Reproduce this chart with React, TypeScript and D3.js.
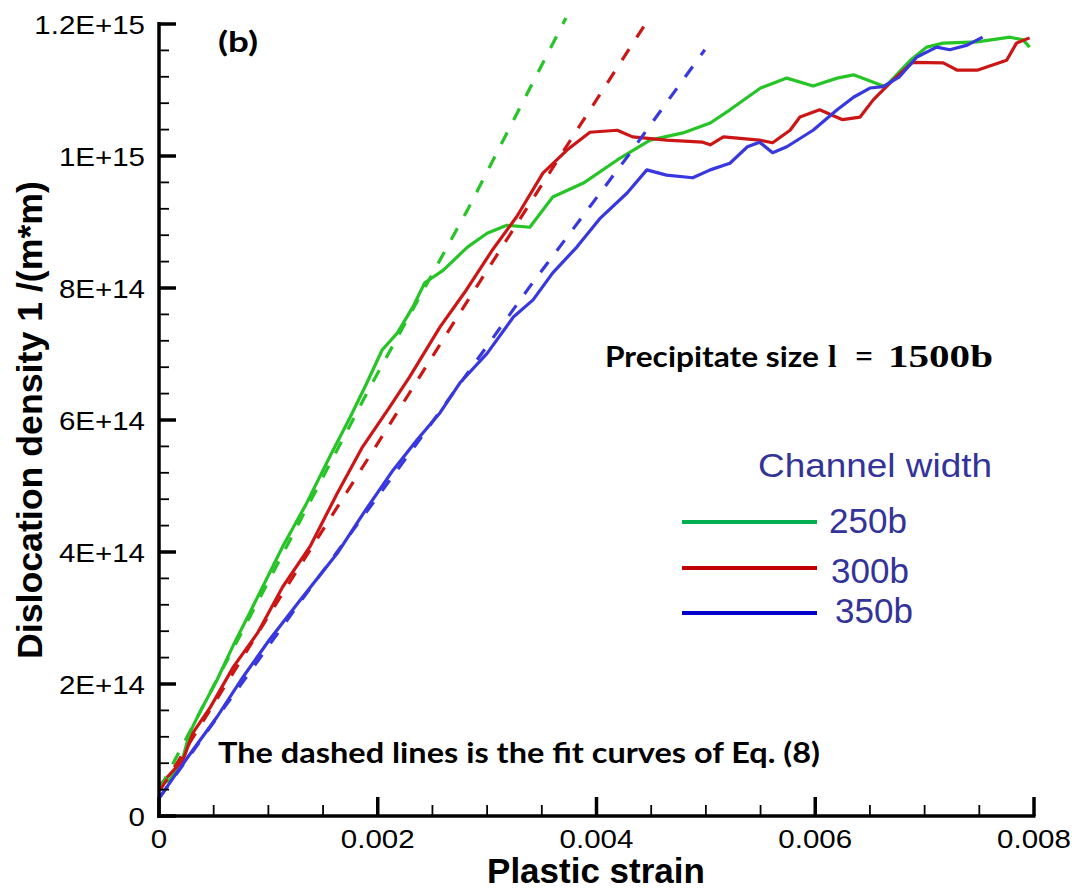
import React from "react";
import * as d3 from "d3";

// Plastic strain (x) and dislocation density in units of 1E+14 1/(m*m) (y)
const solid250b: [number, number][] = [
  [0.00001, 0.47], [0.0001, 0.55], [0.00022, 0.89], [0.00028, 1.26], [0.00037, 1.56],
  [0.00053, 2.06], [0.00068, 2.59], [0.00083, 3.08], [0.00092, 3.38], [0.00113, 4.08],
  [0.00135, 4.74], [0.00156, 5.44], [0.00175, 6.05], [0.0019, 6.56], [0.00204, 7.06],
  [0.00218, 7.32], [0.00232, 7.71], [0.00243, 8.08], [0.0026, 8.27], [0.00282, 8.62],
  [0.003, 8.83], [0.00318, 8.95], [0.00339, 8.92], [0.0036, 9.38], [0.00388, 9.59],
  [0.00419, 9.94], [0.00449, 10.24], [0.00479, 10.35], [0.00504, 10.5], [0.00522, 10.7],
  [0.0055, 11.03], [0.00574, 11.18], [0.00598, 11.06], [0.0062, 11.18], [0.00635, 11.23],
  [0.00664, 11.05], [0.00687, 11.45], [0.00702, 11.65], [0.00717, 11.71], [0.00748, 11.73],
  [0.00778, 11.8], [0.0079, 11.76], [0.00796, 11.65],
];
const solid300b: [number, number][] = [
  [0.00001, 0.47], [0.00022, 0.85], [0.00031, 1.26], [0.00047, 1.65], [0.00068, 2.26],
  [0.0009, 2.77], [0.00113, 3.47], [0.00138, 4.08], [0.00163, 4.89], [0.00186, 5.59],
  [0.00211, 6.2], [0.00229, 6.65], [0.00257, 7.41], [0.00281, 7.97], [0.00305, 8.58],
  [0.00327, 9.08], [0.00351, 9.74], [0.00373, 10.09], [0.00394, 10.36], [0.00419, 10.39],
  [0.00433, 10.29], [0.00464, 10.24], [0.00497, 10.21], [0.00504, 10.17], [0.00516, 10.29],
  [0.00549, 10.24], [0.00561, 10.2], [0.00577, 10.39], [0.00586, 10.59], [0.00604, 10.7],
  [0.00625, 10.55], [0.00641, 10.59], [0.00653, 10.85], [0.00671, 11.15], [0.00689, 11.42],
  [0.00717, 11.41], [0.0073, 11.3], [0.00748, 11.3], [0.00775, 11.45], [0.00784, 11.71],
  [0.00796, 11.79],
];
const solid350b: [number, number][] = [
  [0.00001, 0.29], [0.00016, 0.65], [0.00031, 1.0], [0.00053, 1.5], [0.00077, 2.11],
  [0.00101, 2.67], [0.00129, 3.27], [0.00163, 3.98], [0.00187, 4.59], [0.00214, 5.24],
  [0.00236, 5.7], [0.00257, 6.11], [0.00275, 6.56], [0.003, 7.01], [0.00324, 7.56],
  [0.00342, 7.82], [0.0036, 8.23], [0.00382, 8.62], [0.00403, 9.05], [0.00428, 9.44],
  [0.00446, 9.79], [0.00464, 9.71], [0.00488, 9.67], [0.00504, 9.79], [0.00522, 9.89],
  [0.00538, 10.14], [0.00549, 10.21], [0.00561, 10.05], [0.00574, 10.14], [0.00598, 10.39],
  [0.0062, 10.7], [0.00635, 10.89], [0.0065, 11.03], [0.00662, 11.05], [0.00677, 11.2],
  [0.00693, 11.5], [0.00711, 11.65], [0.00723, 11.61], [0.00739, 11.68], [0.00753, 11.8],
];
// Fit curves of Eq. (8)
const fit250b: [number, number][] = [
  [0.00001, 0.42], [0.00092, 3.3], [0.00193, 6.5], [0.00282, 9.18], [0.00372, 12.09],
];
const fit300b: [number, number][] = [
  [0.00001, 0.39], [0.00111, 3.32], [0.00202, 5.7], [0.00275, 7.62], [0.00382, 10.39], [0.00447, 12.06],
];
const fit350b: [number, number][] = [
  [0.00001, 0.29], [0.00129, 3.24], [0.00236, 5.65], [0.00339, 8.02], [0.00431, 10.05], [0.00499, 11.61],
];

const seriesNames = ["250b", "300b", "350b"];
const curveColors = ["#26c426", "#cc1616", "#3838e0"];
const legendColors = ["#00b050", "#c00000", "#0000c8"];

const xTickValues = [0, 0.002, 0.004, 0.006, 0.008];
const xTickLabels = ["0", "0.002", "0.004", "0.006", "0.008"];
const yTickValues = [0, 2e14, 4e14, 6e14, 8e14, 1e15, 1.2e15];
const yTickLabels = ["0", "2E+14", "4E+14", "6E+14", "8E+14", "1E+15", "1.2E+15"];

const UNIT = 1e14;

export default function App() {
  const W = 1078, H = 890;
  const x = d3.scaleLinear().domain([0, 0.008]).range([159, 1034]);
  const y = d3.scaleLinear().domain([0, 1.2e15]).range([816, 24]);
  const line = d3
    .line<[number, number]>()
    .x((d) => x(d[0]))
    .y((d) => y(d[1] * UNIT));

  const solids = [solid250b, solid300b, solid350b];
  const fits = [fit250b, fit300b, fit350b];

  const xMinor = d3.range(0, 0.00801, 0.0005).filter((v) => Math.abs(v / 0.002 - Math.round(v / 0.002)) > 1e-6);
  const yMinor = d3.range(0, 1.2e15 + 1, 4e13).filter((v) => Math.abs(v / 2e14 - Math.round(v / 2e14)) > 1e-6);

  const axisFont = "'Liberation Sans', Arial, sans-serif";

  return (
    <svg width={W} height={H} style={{ position: "absolute", left: 0, top: 0, background: "#fff" }}>
      <rect x={0} y={0} width={W} height={H} fill="#fff" />
      {/* curves */}
      {solids.map((s, i) => (
        <path key={"s" + i} d={line(s) || ""} fill="none" stroke={curveColors[i]} strokeWidth={3.2} strokeLinejoin="round" />
      ))}
      {fits.map((s, i) => (
        <path key={"f" + i} d={line(s) || ""} fill="none" stroke={curveColors[i]} strokeWidth={3.2} strokeDasharray="13,14" />
      ))}

      {/* axes */}
      <line x1={159} x2={159} y1={y(1.2e15) - 2} y2={y(0) + 2} stroke="#000" strokeWidth={3.5} />
      <line x1={157} x2={x(0.008) + 1.5} y1={y(0)} y2={y(0)} stroke="#000" strokeWidth={3.5} />
      {yTickValues.map((v, i) => (
        <line key={"ym" + i} x1={159} x2={176} y1={y(v)} y2={y(v)} stroke="#000" strokeWidth={3.5} />
      ))}
      {yMinor.map((v, i) => (
        <line key={"yn" + i} x1={159} x2={169} y1={y(v)} y2={y(v)} stroke="#000" strokeWidth={1.8} />
      ))}
      {xTickValues.map((v, i) => (
        <line key={"xm" + i} x1={x(v)} x2={x(v)} y1={y(0)} y2={y(0) - 19} stroke="#000" strokeWidth={3.5} />
      ))}
      {xMinor.map((v, i) => (
        <line key={"xn" + i} x1={x(v)} x2={x(v)} y1={y(0)} y2={y(0) - 11} stroke="#000" strokeWidth={1.8} />
      ))}

      {/* tick labels */}
      {yTickValues.map((v, i) => (
        <g key={"yl" + i} transform={`translate(145,${y(v) + 10}) scale(1.18,1)`}>
          <text textAnchor="end" fontFamily={axisFont} fontSize={25} fill="#000">
            {yTickLabels[i]}
          </text>
        </g>
      ))}
      {xTickValues.map((v, i) => (
        <g key={"xl" + i} transform={`translate(${x(v)},848) scale(1.18,1)`}>
          <text textAnchor="middle" fontFamily={axisFont} fontSize={25} fill="#000">
            {xTickLabels[i]}
          </text>
        </g>
      ))}

      {/* axis titles */}
      <text x={596} y={883} textAnchor="middle" fontFamily={axisFont} fontWeight="bold" fontSize={35} fill="#000">
        Plastic strain
      </text>
      <text
        transform="translate(42,420) rotate(-90)"
        textAnchor="middle"
        fontFamily={axisFont}
        fontWeight="bold"
        fontSize={35}
        fill="#000"
        textLength={478}
        lengthAdjust="spacingAndGlyphs"
      >
        Dislocation density 1 /(m*m)
      </text>

      {/* panel label */}
      <text x={218} y={52} fontFamily="Lato, 'Open Sans', sans-serif" fontWeight="bold" fontSize={28} fill="#000" textLength={40} lengthAdjust="spacingAndGlyphs">
        (b)
      </text>

      {/* annotation */}
      <text x={605} y={367} fontFamily="Lato, 'Open Sans', sans-serif" fontWeight="bold" fontSize={28} fill="#000" textLength={214} lengthAdjust="spacingAndGlyphs">
        Precipitate size
      </text>
      <text x={828} y={367} fontFamily="'Liberation Serif', 'DejaVu Serif', serif" fontWeight="bold" fontSize={31} fill="#000">
        l
      </text>
      <text x={864} y={367} textAnchor="middle" fontFamily="'Liberation Serif', 'DejaVu Serif', serif" fontWeight="bold" fontSize={31} fill="#000">
        =
      </text>
      <text x={888} y={367} fontFamily="'Liberation Serif', 'DejaVu Serif', serif" fontWeight="bold" fontSize={31} fill="#000" textLength={105} lengthAdjust="spacingAndGlyphs">
        1500b
      </text>
      <text x={218} y={763} fontFamily="Lato, 'Open Sans', sans-serif" fontWeight="bold" fontSize={28} fill="#000" textLength={602} lengthAdjust="spacingAndGlyphs">
        The dashed lines is the fit curves of Eq. (8)
      </text>

      {/* legend */}
      <text x={758} y={477} fontFamily={axisFont} fontSize={34} fill="#333399" textLength={234} lengthAdjust="spacingAndGlyphs">
        Channel width
      </text>
      {seriesNames.map((n, i) => {
        const ly = [522, 568, 613][i];
        const ty = [533, 583, 623][i];
        const tx = [829, 831, 835][i];
        return (
          <g key={"lg" + i}>
            <line x1={682} x2={817} y1={ly} y2={ly} stroke={legendColors[i]} strokeWidth={4} />
            <text x={tx} y={ty} fontFamily={axisFont} fontSize={35} fill="#333399">
              {n}
            </text>
          </g>
        );
      })}
    </svg>
  );
}
